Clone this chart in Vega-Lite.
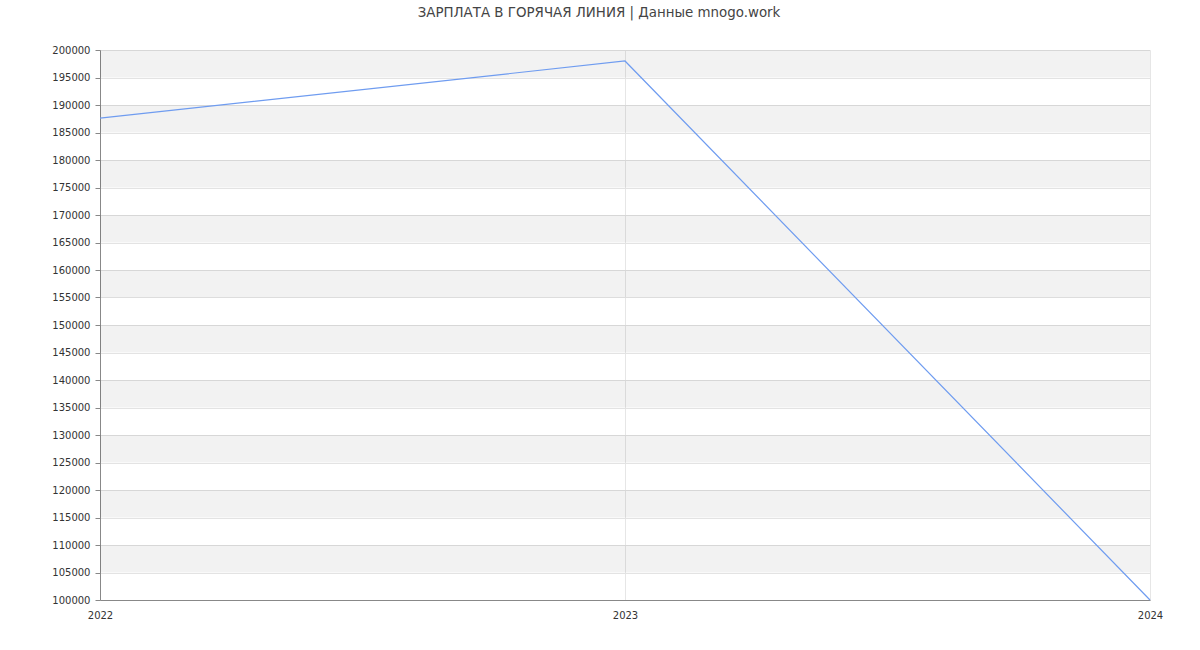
{
  "$schema": "https://vega.github.io/schema/vega-lite/v6.json",
  "autosize": "none",
  "width": 1050,
  "height": 550,
  "padding": {"left": 100, "top": 50, "right": 50, "bottom": 50},
  "background": "white",
  "title": {
    "text": "ЗАРПЛАТА В ГОРЯЧАЯ ЛИНИЯ | Данные mnogo.work",
    "fontSize": 13.4,
    "fontWeight": "normal",
    "font": "DejaVu Sans",
    "color": "#444444",
    "anchor": "middle",
    "dx": -26,
    "offset": 26
  },
  "config": {
    "view": {"stroke": null},
    "axis": {"labelFont": "DejaVu Sans", "labelFontSize": 11, "labelColor": "#333333"}
  },
  "datasets": {
    "bands": [
      {"lo": 195000, "hi": 200000},
      {"lo": 185000, "hi": 190000},
      {"lo": 175000, "hi": 180000},
      {"lo": 165000, "hi": 170000},
      {"lo": 155000, "hi": 160000},
      {"lo": 145000, "hi": 150000},
      {"lo": 135000, "hi": 140000},
      {"lo": 125000, "hi": 130000},
      {"lo": 115000, "hi": 120000},
      {"lo": 105000, "hi": 110000}
    ],
    "salary": [
      {"year": "2022", "salary": 187600},
      {"year": "2023", "salary": 198000},
      {"year": "2024", "salary": 100000}
    ]
  },
  "encoding": {
    "y": {
      "field": "salary", "type": "quantitative",
      "scale": {"domain": [100000, 200000], "nice": false, "zero": false},
      "axis": {
        "title": null, "values": [100000,105000,110000,115000,120000,125000,130000,135000,140000,145000,150000,155000,160000,165000,170000,175000,180000,185000,190000,195000,200000],
        "format": "d", "grid": true, "gridColor": "#e3e3e3",
        "domainColor": "#888888", "tickColor": "#888888", "tickSize": 5, "labelPadding": 5,
        "labelFontSize": 10, "labelOverlap": false
      }
    }
  },
  "layer": [
    {
      "data": {"name": "bands"},
      "mark": {"type": "rect", "color": "#000000", "opacity": 0.05},
      "encoding": {
        "y": {"field": "lo", "type": "quantitative"},
        "y2": {"field": "hi"}
      }
    },
    {
      "data": {"name": "salary"},
      "mark": {"type": "line", "color": "#6f9cf0", "strokeWidth": 1.2},
      "encoding": {
        "x": {
          "field": "year", "type": "ordinal",
          "scale": {"type": "point", "padding": 0},
          "axis": {
            "title": null, "labelAngle": 0,
            "grid": true, "gridColor": "#e6e6e6", "gridWidth": 1,
            "domainColor": "#888888", "ticks": false, "labelPadding": 10,
            "labelFontSize": 10, "labelOverlap": false
          }
        }
      }
    }
  ]
}
